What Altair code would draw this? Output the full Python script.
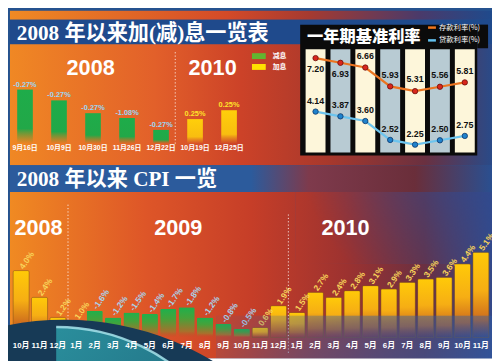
import altair as alt
import pandas as pd

# page margin offset: reference pixel coords -> chart coords
OX, OY = 8, 8
def px(v): return v - OX
def py(v): return v - OY

W, H = 492, 353

# ---------------- data ----------------
adj_dates = ["9月16日", "10月9日", "10月30日", "11月26日", "12月22日", "10月19日", "12月25日"]
adj_labels = ["-0.27%", "-0.27%", "-0.27%", "-1.08%", "-0.27%", "0.25%", "0.25%"]
adj_kind = ["减息", "减息", "减息", "减息", "减息", "加息", "加息"]
adj_height = [55, 44, 31, 26, 14, 25, 34]   # drawn bar heights (relative)

dep_values = [7.20, 6.93, 6.66, 5.58, 5.31, 5.56, 5.81]
dep_labels = ["7.20", "6.93", "6.66", "5.93", "5.31", "5.56", "5.81"]
loan_values = [4.14, 3.87, 3.60, 2.52, 2.25, 2.50, 2.75]
loan_labels = ["4.14", "3.87", "3.60", "2.52", "2.25", "2.50", "2.75"]

cpi_months = ["10月", "11月", "12月",
              "1月", "2月", "3月", "4月", "5月", "6月", "7月", "8月", "9月", "10月", "11月", "12月",
              "1月", "2月", "3月", "4月", "5月", "6月", "7月", "8月", "9月", "10月", "11月"]
cpi_values = [4.0, 2.4, 1.2,
              1.0, -1.6, -1.2, -1.5, -1.4, -1.7, -1.8, -1.2, -0.8, -0.5, 0.6, 1.9,
              1.5, 2.7, 2.4, 2.8, 3.1, 2.9, 3.3, 3.5, 3.6, 4.4, 5.1]
cpi_labels = ["4.0%", "2.4%", "1.2%",
              "1.0%", "-1.6%", "-1.2%", "-1.5%", "-1.4%", "-1.7%", "-1.8%", "-1.2%", "-0.8%", "-0.5%", "0.6%", "1.9%",
              "1.5%", "2.7%", "2.4%", "2.8%", "3.1%", "2.9%", "3.3%", "3.5%", "3.6%", "4.4%", "5.1%"]

NUM = "Liberation Sans, Arial, sans-serif"
CJK = "Liberation Sans, Noto Sans CJK SC"
SERIF = "Liberation Serif, Noto Sans CJK SC"

one = pd.DataFrame({"d": [0]})


def lin(stops, x1=0, y1=0, x2=1, y2=0):
    return {"gradient": "linear", "x1": x1, "y1": y1, "x2": x2, "y2": y2,
            "stops": [{"offset": o, "color": c} for o, c in stops]}


def rad(stops, cx, cy, r2=1.0):
    return {"gradient": "radial", "x1": cx, "y1": cy, "r1": 0, "x2": cx, "y2": cy, "r2": r2,
            "stops": [{"offset": o, "color": c} for o, c in stops]}


def box(x0, x1, y0, y1, fill, **kw):
    return alt.Chart(one).mark_rect(fill=fill, **kw).encode(
        x=alt.value(px(x0)), x2=alt.value(px(x1)), y=alt.value(py(y0)), y2=alt.value(py(y1)))


def label(text, x, y, size, color="white", font=CJK, weight="bold", align="center", **kw):
    return alt.Chart(one).mark_text(text=text, fontSize=size, color=color, font=font,
                                    fontWeight=weight, align=align, baseline="middle", **kw).encode(
        x=alt.value(px(x)), y=alt.value(py(y)))


def dotted(x, y0, y1):
    return alt.Chart(one).mark_rule(color="white", strokeDash=[1.2, 2.2], strokeWidth=1, opacity=0.85).encode(
        x=alt.value(px(x)), y=alt.value(py(y0)), y2=alt.value(py(y1)))


layers = []

# ---------------- backgrounds ----------------
layers.append(box(0, 500, 0, 361, "#25528f"))
layers.append(box(10, 500, 8, 17, lin([(0, "#f08a24"), (0.45, "#d44a28"), (0.62, "#a63a30"),
                                       (0.85, "#4a3a6a"), (1, "#1f4a8c")])))
layers.append(box(10, 500, 17, 42, "#1f4a8c"))
layers.append(box(10, 500, 42, 165, lin([(0, "#f08824"), (0.3, "#e2602a"), (0.48, "#cc4228"),
                                         (0.66, "#a8382c"), (0.86, "#6a3040"), (1, "#2a4a88")])))
layers.append(box(10, 500, 165, 192, lin([(0, "#2c5b9c"), (0.5, "#2c5b9c"), (0.62, "#7e3a4c"),
                                          (0.84, "#6a2e3a"), (1, "#2a4f90")])))
layers.append(box(10, 500, 192, 361, lin([(0, "#f08a22"), (0.28, "#de5628"), (0.5, "#c63e28"),
                                          (0.7, "#9c3230"), (0.86, "#6a3042"), (1, "#34498a")])))
layers.append(box(300, 500, 192, 265, rad([(0, "rgba(45,75,145,0.85)"), (1, "rgba(45,75,145,0)")], 1, 0)))

# ---------------- top-left: rate changes ----------------
adj_df = pd.DataFrame({"i": list(range(7)), "date": adj_dates, "lab": adj_labels,
                       "kind": adj_kind, "h": adj_height})
adj_x = alt.X("i:O", scale=alt.Scale(domain=list(range(7)), range=[px(8), px(250)],
                                     paddingInner=0.54, paddingOuter=0.27), axis=None)
adj_y = alt.Y("h:Q", scale=alt.Scale(domain=[0, 60], range=[py(143), py(83)]), axis=None)
green_top = lin([(0, "#1eac4a"), (0.72, "#22a848"), (1, "rgba(90,150,50,0)")], 0, 0, 0, 1)
yellow_top = lin([(0, "#ffcf0a"), (0.72, "#f8bd10"), (1, "rgba(240,160,30,0)")], 0, 0, 0, 1)
layers.append(alt.Chart(adj_df).transform_filter("datum.i < 5").mark_bar(fill=green_top)
              .encode(x=adj_x, y=adj_y))
layers.append(alt.Chart(adj_df).transform_filter("datum.i >= 5").mark_bar(fill=yellow_top)
              .encode(x=adj_x, y=adj_y))
layers.append(alt.Chart(adj_df).mark_text(font=NUM, fontWeight="bold", fontSize=7.5, baseline="bottom", dy=-1)
              .encode(x=adj_x, y=adj_y, text="lab:N",
                      color=alt.Color("kind:N", scale=alt.Scale(domain=["减息", "加息"],
                                                                range=["#9ad6f2", "#ffe22a"]), legend=None)))
layers.append(alt.Chart(adj_df).mark_text(font=CJK, fontWeight="bold", fontSize=7, color="white")
              .encode(x=adj_x, y=alt.value(py(147.5)), text="date:N"))
layers.append(label("2008", 92, 66.5, 22, font=NUM))
layers.append(label("2010", 216, 66.5, 22, font=NUM))
layers.append(dotted(178, 50, 145))
# legend
layers.append(box(256, 270, 51, 57, "#62b530"))
layers.append(box(256, 270, 62, 68, "#ffe100"))
layers.append(label("减息", 277, 54, 7, align="left", font="Noto Sans CJK SC"))
layers.append(label("加息", 277, 65.5, 7, align="left", font="Noto Sans CJK SC"))

# ---------------- top-right: one-year benchmark rates ----------------
layers.append(box(305, 485, 22, 155, "#0b0b0b"))
layers.append(box(485, 496, 22, 46, "#0b0b0b"))
layers.append(label("一年期基准利率", 312, 35, 16.5, align="left", font="Noto Sans CJK SC", weight=900))
layers.append(alt.Chart(one).mark_rule(color="#f0761c", strokeWidth=2.5).encode(
    x=alt.value(px(435)), x2=alt.value(px(443)), y=alt.value(py(25))))
layers.append(alt.Chart(one).mark_rule(color="#62c0ee", strokeWidth=2.5).encode(
    x=alt.value(px(435)), x2=alt.value(px(443)), y=alt.value(py(38))))
layers.append(label("存款利率(%)", 446, 25, 7.5, align="left", weight="normal", font="Noto Sans CJK SC"))
layers.append(label("贷款利率(%)", 446, 38, 7.5, align="left", weight="normal", font="Noto Sans CJK SC"))

rate_df = pd.DataFrame({"i": list(range(7)), "dep": dep_values, "dlab": dep_labels,
                        "loan": loan_values, "llab": loan_labels})
rx_scale = alt.Scale(domain=[-0.5, 6.5], range=[px(308), px(485)])
ry_scale = alt.Scale(domain=[2.25, 7.20], range=[py(144), py(56)])
layers.append(alt.Chart(rate_df).transform_calculate(a="datum.i - 0.4", b="datum.i + 0.4", p="datum.i % 2")
              .mark_rect().encode(
    x=alt.X("a:Q", scale=rx_scale, axis=None), x2="b:Q",
    y=alt.value(py(47)), y2=alt.value(py(152)),
    color=alt.Color("p:N", scale=alt.Scale(domain=[0, 1], range=["#fdf6da", "#b8cbd3"]), legend=None)))
rx = alt.X("i:Q", scale=rx_scale, axis=None)
layers.append(alt.Chart(rate_df).mark_line(color="#ec7420", strokeWidth=2.2).encode(
    x=rx, y=alt.Y("dep:Q", scale=ry_scale, axis=None)))
layers.append(alt.Chart(rate_df).mark_line(color="#6cc4ee", strokeWidth=2.2).encode(
    x=rx, y=alt.Y("loan:Q", scale=ry_scale, axis=None)))
layers.append(alt.Chart(rate_df).mark_point(filled=True, size=30, color="#d8261c", stroke="#6a0e0a",
                                            strokeWidth=0.8, opacity=1).encode(
    x=rx, y=alt.Y("dep:Q", scale=ry_scale, axis=None)))
layers.append(alt.Chart(rate_df).mark_point(filled=True, size=30, color="#1f82cc", stroke="#0a3468",
                                            strokeWidth=0.8, opacity=1).encode(
    x=rx, y=alt.Y("loan:Q", scale=ry_scale, axis=None)))
layers.append(alt.Chart(rate_df).transform_filter("datum.i < 2").mark_text(
    font=NUM, fontWeight="bold", fontSize=9, color="#111", dy=11).encode(
    x=rx, y=alt.Y("dep:Q", scale=ry_scale, axis=None), text="dlab:N"))
layers.append(alt.Chart(rate_df).transform_filter("datum.i >= 2").mark_text(
    font=NUM, fontWeight="bold", fontSize=9, color="#111", dy=-12).encode(
    x=rx, y=alt.Y("dep:Q", scale=ry_scale, axis=None), text="dlab:N"))
layers.append(alt.Chart(rate_df).mark_text(
    font=NUM, fontWeight="bold", fontSize=9, color="#111", dy=-11).encode(
    x=rx, y=alt.Y("loan:Q", scale=ry_scale, axis=None), text="llab:N"))

# ---------------- titles ----------------
layers.append(label("2008 年以来加(减)息一览表", 17, 32, 21.5, align="left", font=SERIF))
layers.append(label("2008 年以来 CPI 一览", 17, 180, 21.5, align="left", font=SERIF))

# ---------------- bottom: CPI ----------------
cpi_df = pd.DataFrame({"i": list(range(26)), "m": cpi_months, "v": cpi_values, "lab": cpi_labels})
cx_scale = alt.Scale(domain=list(range(26)), range=[px(12), px(498)], paddingInner=0.12, paddingOuter=0.06)
cy_scale = alt.Scale(domain=[0, 6], range=[py(340), py(238)])
cx = alt.X("i:O", scale=cx_scale, axis=None)
cy = alt.Y("h:Q", scale=cy_scale, axis=None)
yellow_cpi = lin([(0, "#ffca08"), (0.45, "#f6ae14"), (0.8, "#cc6a1e"), (1, "rgba(180,80,40,0)")], 0, 0, 0, 1)
green_cpi = lin([(0, "#1fb04c"), (0.35, "#46a23a"), (0.8, "#a8702c"), (1, "rgba(190,80,40,0)")], 0, 0, 0, 1)
base = alt.Chart(cpi_df).transform_calculate(h="abs(datum.v)")
layers.append(base.transform_filter("datum.v >= 0").mark_bar(
    fill=yellow_cpi, stroke="#8a5a18", strokeWidth=0.6, strokeOpacity=0.7,
    cornerRadiusTopLeft=1.5, cornerRadiusTopRight=1.5).encode(x=cx, y=cy))
layers.append(base.transform_filter("datum.v < 0").mark_bar(
    fill=green_cpi, cornerRadiusTopLeft=1.5, cornerRadiusTopRight=1.5).encode(x=cx, y=cy))
cx_lab = alt.X("i:O", scale=cx_scale, axis=None, bandPosition=0.2)
layers.append(base.transform_calculate(h2="abs(datum.v) + 0.15", s="datum.v >= 0 ? 'p' : 'n'").mark_text(
    font=NUM, fontWeight="bold", fontSize=8.5, angle=305, align="left", baseline="middle").encode(
    x=cx_lab, y=alt.Y("h2:Q", scale=cy_scale, axis=None), text="lab:N",
    color=alt.Color("s:N", scale=alt.Scale(domain=["p", "n"], range=["#f8d45a", "#a9d4ec"]), legend=None)))

layers.append(label("2008", 39, 229, 22, font=NUM))
layers.append(label("2009", 181, 229, 22, font=NUM))
layers.append(label("2010", 351, 229, 22, font=NUM))
layers.append(dotted(69, 205, 356))
layers.append(dotted(293, 215, 356))

# globe bottom-left
layers.append(alt.Chart(one).mark_point(shape="circle", filled=True, size=586 * 586, color="#173a56", opacity=1)
              .encode(x=alt.value(px(65)), y=alt.value(py(615))))
layers.append(alt.Chart(one).mark_arc(theta=0, theta2=1.45, radius=200, fill=lin(
    [(0, "#2a8e9c"), (1, "#1c5a72")], 0, 0, 1, 1)).encode(x=alt.value(px(57)), y=alt.value(py(529))))
layers.append(alt.Chart(one).mark_arc(theta=0, theta2=0.9, radius=201, radius2=198.5, fill="#a6e2ea",
                                      opacity=0.85).encode(x=alt.value(px(57)), y=alt.value(py(529))))
# bottom blue haze
layers.append(box(220, 500, 318, 361, rad([(0, "rgba(48,92,165,0.9)"), (0.6, "rgba(48,92,165,0.45)"),
                                           (1, "rgba(48,92,165,0)")], 0.75, 1)))

layers.append(alt.Chart(cpi_df).mark_text(font=CJK, fontWeight="bold", fontSize=8, color="white")
              .encode(x=alt.X("i:O", scale=cx_scale, axis=None, bandPosition=0.5),
                      y=alt.value(py(349)), text="m:N"))

chart = alt.layer(*layers).resolve_scale(
    x="independent", y="independent", color="independent"
).properties(width=W, height=H, padding=0, autosize="none").configure_view(stroke=None)

chart.save("out.html", embed_options={"renderer": "svg", "actions": False})
